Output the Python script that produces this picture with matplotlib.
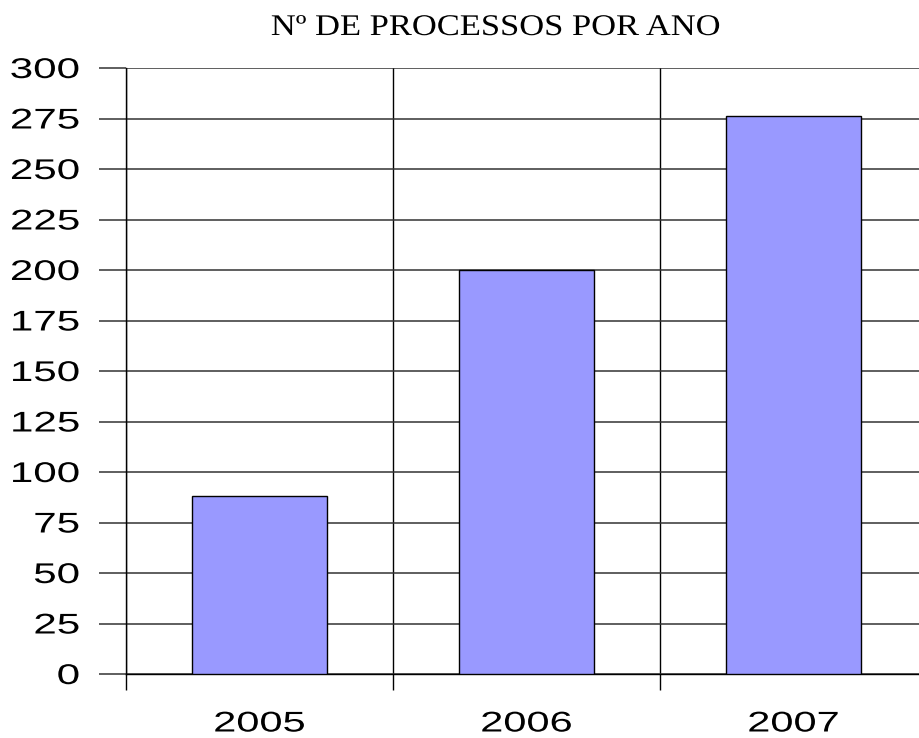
import numpy as np
import matplotlib
matplotlib.use("Agg")
import matplotlib.pyplot as plt
from matplotlib.patheffects import AbstractPathEffect
from matplotlib.transforms import Affine2D

years = ["2005", "2006", "2007"]
processos = [88, 200, 276]
yticks = np.arange(0, 301, 25)
title = "Nº DE PROCESSOS POR ANO"


class Stretch(AbstractPathEffect):
    # widen the glyphs horizontally, keeping one edge in place
    def __init__(self, sx, anchor="center"):
        super().__init__()
        self.sx = sx
        self.anchor = anchor

    def draw_path(self, renderer, gc, tpath, affine, rgbFace=None):
        ext = tpath.get_extents(affine)
        if self.anchor == "right":
            cx = ext.x1
        else:
            cx = (ext.x0 + ext.x1) / 2
        t = affine + Affine2D().translate(-cx, 0).scale(self.sx, 1).translate(cx, 0)
        renderer.draw_path(gc, tpath, t, rgbFace)


plt.rcParams['font.family'] = ['Liberation Sans', 'DejaVu Sans']

fig = plt.figure(figsize=(9.19, 7.38), dpi=100)
ax = fig.add_axes([126/919, 64/738, 801/919, 606/738])

x = np.arange(len(years))
ax.bar(x, processos, width=0.505, color="#9999ff", edgecolor="black", linewidth=1.0, zorder=3)

ax.set_xlim(-0.5, 2.5)
ax.set_ylim(0, 300)
ax.set_yticks(yticks)
ax.set_yticklabels([str(v) for v in yticks])
ax.set_xticks(x)
ax.set_xticklabels(years)
ax.set_xticks(np.arange(-0.5, 3, 1), minor=True)

ax.grid(axis="y", which="major", color="#333333", linewidth=1.1, zorder=0)
ax.grid(axis="x", which="minor", color="black", linewidth=1.0, zorder=0)

ax.tick_params(axis="y", which="major", direction="out", length=19.4, width=1.1,
               color="#333333", pad=14, labelsize=20.5)
ax.tick_params(axis="x", which="major", length=0, pad=27, labelsize=20.5)
ax.tick_params(axis="x", which="minor", direction="out", length=11.5, width=1.0, color="black")

for lab in ax.get_yticklabels():
    lab.set_path_effects([Stretch(1.48, "right")])
for lab in ax.get_xticklabels():
    lab.set_path_effects([Stretch(1.46, "center")])

for side in ["top", "right"]:
    ax.spines[side].set_visible(False)
ax.spines["left"].set_linewidth(1.0)
ax.spines["bottom"].set_linewidth(1.0)
ax.set_axisbelow(True)

t = fig.text(496/919, 1 - 35/738, title, family="Liberation Serif", fontsize=21.6,
             ha="center", va="baseline")
t.set_path_effects([Stretch(1.15, "center")])

fig.savefig("out.png", dpi=100)
